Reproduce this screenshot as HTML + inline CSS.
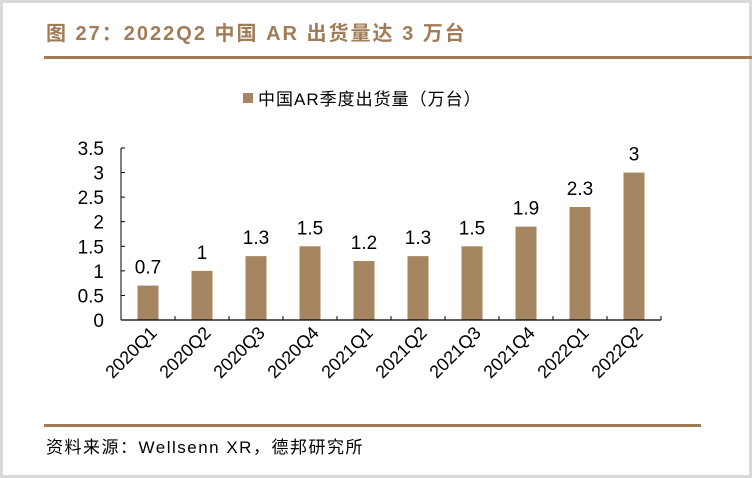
<!DOCTYPE html>
<html><head><meta charset="utf-8"><style>
body{margin:0;background:#fff}
#wrap{position:relative;width:752px;height:478px;background:#fff;overflow:hidden}
svg{position:absolute;left:0;top:0}
</style></head><body>
<div id="wrap">
<svg id="c" width="752" height="478">
<rect x="1.5" y="1.5" width="749" height="475" fill="#fff" stroke="#d9d9d9" stroke-width="3"/>
<text x="46" y="40" font-family="Liberation Sans, Noto Sans CJK SC, sans-serif" font-size="20" font-weight="bold" letter-spacing="2" fill="#a07c58">图 27：2022Q2 中国 AR 出货量达 3 万台</text>
<rect x="44" y="56" width="708" height="3" fill="#a07c58"/>
<rect x="243" y="93" width="10" height="10" fill="#a68660"/>
<text x="258" y="105" font-family="Liberation Sans, Noto Sans CJK SC, sans-serif" font-size="17" letter-spacing="1" fill="#000">中国AR季度出货量（万台）</text>
<g id="plot"></g>
<rect x="44" y="424" width="657" height="3" fill="#a07c58"/>
<text x="46" y="453" font-family="Liberation Sans, Noto Sans CJK SC, sans-serif" font-size="17" letter-spacing="1.5" fill="#000">资料来源：Wellsenn XR，德邦研究所</text>
</svg>
</div>
<script>
const categories=["2020Q1","2020Q2","2020Q3","2020Q4","2021Q1","2021Q2","2021Q3","2021Q4","2022Q1","2022Q2"];
const values=[0.7,1,1.3,1.5,1.2,1.3,1.5,1.9,2.3,3];
const valueLabels=["0.7","1","1.3","1.5","1.2","1.3","1.5","1.9","2.3","3"];
const yTicks=[0,0.5,1,1.5,2,2.5,3,3.5];
const yTickLabels=["0","0.5","1","1.5","2","2.5","3","3.5"];
const NS="http://www.w3.org/2000/svg";
const g=document.getElementById('plot');
const x0=121,x1=661,y0=320,yTop=148,ymax=3.5;
const band=(x1-x0)/categories.length;
const y=v=>y0-(v/ymax)*(y0-yTop);
const xc=i=>x0+band*(i+0.5);
function mk(t,a){const e=document.createElementNS(NS,t);for(const k in a)e.setAttribute(k,a[k]);g.appendChild(e);return e;}
const F="Liberation Sans, Arial, sans-serif";
let ax=mk('line',{x1:x0,y1:yTop,x2:x0,y2:y0,stroke:'#000','stroke-width':1});


yTicks.forEach((v,i)=>{
 let t=mk('line',{x1:x0,y1:y(v),x2:x0+4,y2:y(v),stroke:'#000'});
 
 
 let l=mk('text',{x:x0-17,y:y(v)+7,'text-anchor':'end','font-family':F,'font-size':19,fill:'#000'});
 l.textContent=yTickLabels[i];
 
 
});
categories.forEach((c,i)=>{
 let b=mk('rect',{x:xc(i)-10.5,y:y(values[i]),width:21,height:y0-y(values[i]),fill:'#a68660'});
 
 
 let v=mk('text',{x:xc(i),y:y(values[i])-12,'text-anchor':'middle','font-family':F,'font-size':19,fill:'#000'});
 v.textContent=valueLabels[i];
 
 
 let tk=mk('line',{x1:x0+band*(i+1),y1:y0,x2:x0+band*(i+1),y2:y0-4,stroke:'#000'});
 
 
 let cx=xc(i)+10,cy=y0+14;
 let l=mk('text',{x:cx,y:cy,'text-anchor':'end','font-family':F,'font-size':18,fill:'#000',transform:`rotate(-45 ${cx} ${cy})`});
 l.textContent=c;
 
 
});
let xa=mk('line',{x1:x0,y1:y0,x2:x1,y2:y0,stroke:'#000','stroke-width':1.2});


</script>
</body></html>
